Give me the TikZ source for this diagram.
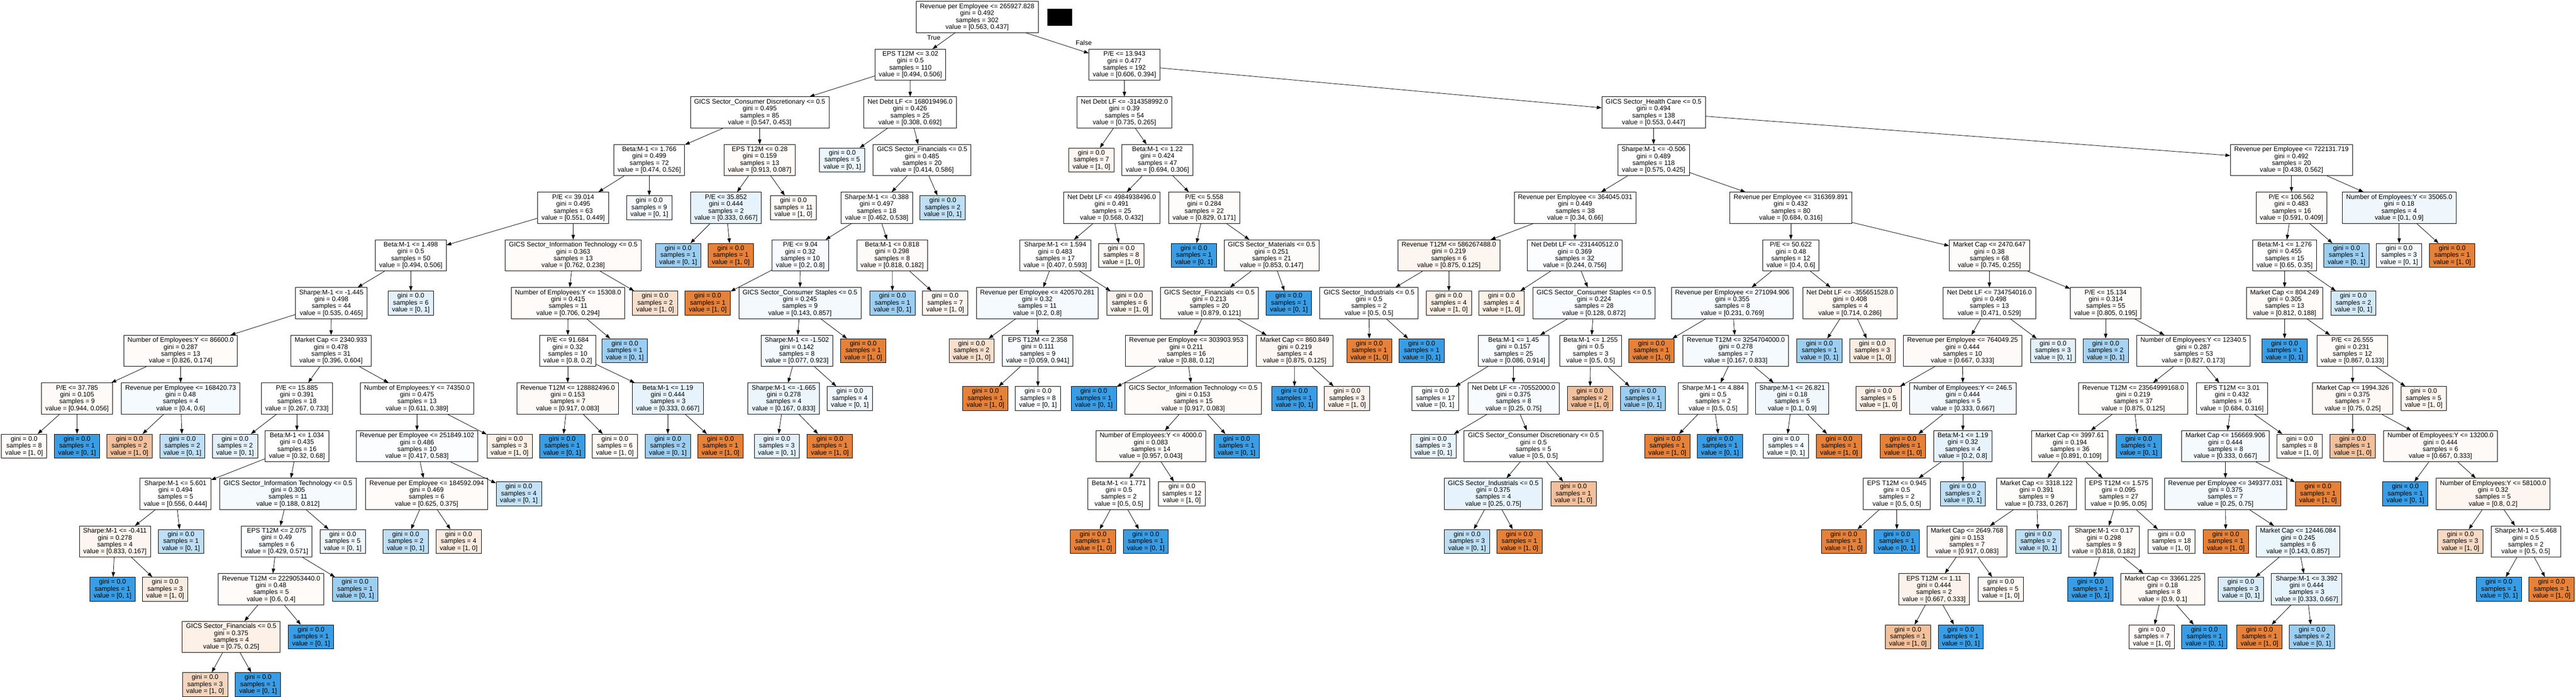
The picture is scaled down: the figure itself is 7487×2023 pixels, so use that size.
\documentclass[tikz,border=0pt]{standalone}
\usepackage{fontspec}
\setmainfont{Liberation Sans}
\usetikzlibrary{arrows.meta}
\definecolor{O}{RGB}{229,129,57}
\definecolor{B}{RGB}{57,157,229}
\newcommand{\tfnt}{\fontsize{19.05pt}{20pt}\selectfont}
\tikzset{
  dn/.style={draw=black, line width=1.3pt, rectangle, align=center, inner xsep=11pt, inner ysep=0pt, minimum height=90.5pt, font=\tfnt},
  lf/.style={dn, minimum height=70pt},
  ed/.style={-{Triangle[length=14pt,width=10pt]}, line width=1.2pt, draw=black},
  lbl/.style={font=\tfnt, inner sep=0pt}
}
% name, x, level, line1, gini, samples, value, fill
\newcommand{\Nd}[8]{\node[dn,fill=#8] (#1) at (#2,{-49.5-138.5*#3}) {#4\\gini = #5\\samples = #6\\value = #7};}
% name, x, level, samples, value, fill
\newcommand{\Lf}[6]{\node[lf,fill=#6] (#1) at (#2,{-49.5-138.5*#3}) {gini = 0.0\\samples = #4\\value = #5};}
\begin{document}
\begin{tikzpicture}[x=1pt,y=1pt]
\fill[white] (0,0) rectangle (7487,-2023);
\useasboundingbox (0,0) rectangle (7487,-2023);
% level 0
\Nd{r}{2840}{0}{Revenue per Employee <= 265927.828}{0.492}{302}{[0.563, 0.437]}{white}
\node[fill=black, minimum width=72pt, minimum height=49pt, inner sep=0pt] (blk) at (3080,-50.5) {};
% level 1
\Nd{a}{2646}{1}{EPS T12M <= 3.02}{0.5}{110}{[0.494, 0.506]}{white}
\Nd{b}{3268}{1}{P/E <= 13.943}{0.477}{192}{[0.606, 0.394]}{white}
% level 2
\Nd{a1}{2208}{2}{GICS Sector\_Consumer Discretionary <= 0.5}{0.495}{85}{[0.547, 0.453]}{white}
\Nd{a2}{2645}{2}{Net Debt LF <= 168019496.0}{0.426}{25}{[0.308, 0.692]}{white}
\Nd{b1}{3268}{2}{Net Debt LF <= -314358992.0}{0.39}{54}{[0.735, 0.265]}{white}
\Nd{b2}{4806}{2}{GICS Sector\_Health Care <= 0.5}{0.494}{138}{[0.553, 0.447]}{white}
% level 3
\Nd{a11}{1887}{3}{Beta:M-1 <= 1.766}{0.499}{72}{[0.474, 0.526]}{white}
\Nd{a12}{2208}{3}{EPS T12M <= 0.28}{0.159}{13}{[0.913, 0.087]}{O!3}
\Lf{a21}{2448}{3}{5}{[0, 1]}{B!10}
\Nd{a22}{2680}{3}{GICS Sector\_Financials <= 0.5}{0.485}{20}{[0.414, 0.586]}{white}
\Lf{b11}{3172}{3}{7}{[1, 0]}{O!8}
\Nd{b12}{3364}{3}{Beta:M-1 <= 1.22}{0.424}{47}{[0.694, 0.306]}{white}
\Nd{b21}{4806}{3}{Sharpe:M-1 <= -0.506}{0.489}{118}{[0.575, 0.425]}{white}
\Nd{b22}{6660}{3}{Revenue per Employee <= 722131.719}{0.492}{20}{[0.438, 0.562]}{white}
% level 4
\Nd{c1}{1666}{4}{P/E <= 39.014}{0.495}{63}{[0.551, 0.449]}{white}
\Lf{c2}{1887}{4}{9}{[0, 1]}{B!5}
\Nd{c3}{2110}{4}{P/E <= 35.852}{0.444}{2}{[0.333, 0.667]}{B!12}
\Lf{c4}{2306}{4}{11}{[1, 0]}{O!4}
\Nd{c5}{2548}{4}{Sharpe:M-1 <= -0.388}{0.497}{18}{[0.462, 0.538]}{white}
\Lf{c6}{2740}{4}{2}{[0, 1]}{B!33}
\Nd{c7}{3231}{4}{Net Debt LF <= 4984938496.0}{0.491}{25}{[0.568, 0.432]}{white}
\Nd{c8}{3500}{4}{P/E <= 5.558}{0.284}{22}{[0.829, 0.171]}{O!2}
\Nd{c9}{4578}{4}{Revenue per Employee <= 364045.031}{0.449}{38}{[0.34, 0.66]}{white}
\Nd{c10}{5205}{4}{Revenue per Employee <= 316369.891}{0.432}{80}{[0.684, 0.316]}{white}
\Nd{c11}{6660}{4}{P/E <= 106.562}{0.483}{16}{[0.591, 0.409]}{O!2}
\Nd{c12}{6973}{4}{Number of Employees:Y <= 35065.0}{0.18}{4}{[0.1, 0.9]}{B!8}
% level 5
\Nd{d1}{1194}{5}{Beta:M-1 <= 1.498}{0.5}{50}{[0.494, 0.506]}{white}
\Nd{d2}{1666}{5}{GICS Sector\_Information Technology <= 0.5}{0.363}{13}{[0.762, 0.238]}{O!3}
\Lf{d3}{1971}{5}{1}{[0, 1]}{B!50}
\Lf{d4}{2124}{5}{1}{[1, 0]}{O}
\Nd{d5}{2326}{5}{P/E <= 9.04}{0.32}{10}{[0.2, 0.8]}{B!4}
\Nd{d6}{2593}{5}{Beta:M-1 <= 0.818}{0.298}{8}{[0.818, 0.182]}{O!4}
\Nd{d7}{3067}{5}{Sharpe:M-1 <= 1.594}{0.483}{17}{[0.407, 0.593]}{white}
\Lf{d8}{3259}{5}{8}{[1, 0]}{O!7}
\Lf{d9}{3470}{5}{1}{[0, 1]}{B}
\Nd{d10}{3696}{5}{GICS Sector\_Materials <= 0.5}{0.251}{21}{[0.853, 0.147]}{O!2}
\Nd{d11}{4211}{5}{Revenue T12M <= 586267488.0}{0.219}{6}{[0.875, 0.125]}{O!8}
\Nd{d12}{4577}{5}{Net Debt LF <= -231440512.0}{0.369}{32}{[0.244, 0.756]}{B!2}
\Nd{d13}{5205}{5}{P/E <= 50.622}{0.48}{12}{[0.4, 0.6]}{white}
\Nd{d14}{5782}{5}{Market Cap <= 2470.647}{0.38}{68}{[0.745, 0.255]}{O!2}
\Nd{d15}{6640}{5}{Beta:M-1 <= 1.276}{0.455}{15}{[0.65, 0.35]}{white}
\Lf{d16}{6820}{5}{1}{[0, 1]}{B!50}
\Lf{d17}{6973}{5}{3}{[0, 1]}{B!6}
\Lf{d18}{7127}{5}{1}{[1, 0]}{O}
% level 6
\Nd{e1}{963}{6}{Sharpe:M-1 <= -1.445}{0.498}{44}{[0.535, 0.465]}{white}
\Lf{e2}{1194}{6}{6}{[0, 1]}{B!15}
\Nd{e3}{1651}{6}{Number of Employees:Y <= 15308.0}{0.415}{11}{[0.706, 0.294]}{O!3}
\Lf{e4}{1904}{6}{2}{[1, 0]}{O!25}
\Lf{e5}{2057}{6}{1}{[1, 0]}{O}
\Nd{e6}{2325}{6}{GICS Sector\_Consumer Staples <= 0.5}{0.245}{9}{[0.143, 0.857]}{B!6}
\Lf{e7}{2594}{6}{1}{[0, 1]}{B!50}
\Lf{e8}{2747}{6}{7}{[1, 0]}{O!8}
\Nd{e9}{3015}{6}{Revenue per Employee <= 420570.281}{0.32}{11}{[0.2, 0.8]}{B!5}
\Lf{e10}{3283}{6}{6}{[1, 0]}{O!10}
\Nd{e11}{3515}{6}{GICS Sector\_Financials <= 0.5}{0.213}{20}{[0.879, 0.121]}{O!2}
\Lf{e12}{3746}{6}{1}{[0, 1]}{B}
\Nd{e13}{3979}{6}{GICS Sector\_Industrials <= 0.5}{0.5}{2}{[0.5, 0.5]}{white}
\Lf{e14}{4211}{6}{4}{[1, 0]}{O!12}
\Lf{e15}{4364}{6}{4}{[1, 0]}{O!12}
\Nd{e16}{4633}{6}{GICS Sector\_Consumer Staples <= 0.5}{0.224}{28}{[0.128, 0.872]}{B!3}
\Nd{e17}{5035}{6}{Revenue per Employee <= 271094.906}{0.355}{8}{[0.231, 0.769]}{B!4}
\Nd{e18}{5377}{6}{Net Debt LF <= -355651528.0}{0.408}{4}{[0.714, 0.286]}{O!5}
\Nd{e19}{5782}{6}{Net Debt LF <= 734754016.0}{0.498}{13}{[0.471, 0.529]}{white}
\Nd{e20}{6120}{6}{P/E <= 15.134}{0.314}{55}{[0.805, 0.195]}{O!2}
\Nd{e21}{6640}{6}{Market Cap <= 804.249}{0.305}{13}{[0.812, 0.188]}{O!3}
\Lf{e22}{6840}{6}{2}{[0, 1]}{B!22}
% level 7
\Nd{f1}{525}{7}{Number of Employees:Y <= 86600.0}{0.287}{13}{[0.826, 0.174]}{O!3}
\Nd{f2}{962}{7}{Market Cap <= 2340.933}{0.478}{31}{[0.396, 0.604]}{white}
\Nd{f3}{1650}{7}{P/E <= 91.684}{0.32}{10}{[0.8, 0.2]}{white}
\Lf{f4}{1816}{7}{1}{[0, 1]}{B!50}
\Nd{f5}{2316}{7}{Sharpe:M-1 <= -1.502}{0.142}{8}{[0.077, 0.923]}{B!6}
\Lf{f6}{2509}{7}{1}{[1, 0]}{O}
\Lf{f7}{2824}{7}{2}{[1, 0]}{O!25}
\Nd{f8}{3016}{7}{EPS T12M <= 2.358}{0.111}{9}{[0.059, 0.941]}{B!3}
\Nd{f9}{3448}{7}{Revenue per Employee <= 303903.953}{0.211}{16}{[0.88, 0.12]}{O!3}
\Nd{f10}{3763}{7}{Market Cap <= 860.849}{0.219}{4}{[0.875, 0.125]}{O!6}
\Lf{f11}{3980}{7}{1}{[1, 0]}{O}
\Lf{f12}{4132}{7}{1}{[0, 1]}{B}
\Nd{f13}{4399}{7}{Beta:M-1 <= 1.45}{0.157}{25}{[0.086, 0.914]}{B!3}
\Nd{f14}{4623}{7}{Beta:M-1 <= 1.255}{0.5}{3}{[0.5, 0.5]}{white}
\Lf{f15}{4800}{7}{1}{[1, 0]}{O}
\Nd{f16}{5045}{7}{Revenue T12M <= 3254704000.0}{0.278}{7}{[0.167, 0.833]}{B!5}
\Lf{f17}{5288}{7}{1}{[0, 1]}{B!50}
\Lf{f18}{5442}{7}{3}{[1, 0]}{O!15}
\Nd{f19}{5704}{7}{Revenue per Employee <= 764049.25}{0.444}{10}{[0.667, 0.333]}{O!4}
\Lf{f20}{5967}{7}{3}{[0, 1]}{B!15}
\Lf{f21}{6120}{7}{2}{[0, 1]}{B!45}
\Nd{f22}{6375}{7}{Number of Employees:Y <= 12340.5}{0.287}{53}{[0.827, 0.173]}{white}
\Lf{f23}{6640}{7}{1}{[0, 1]}{B}
\Nd{f24}{6837}{7}{P/E <= 26.555}{0.231}{12}{[0.867, 0.133]}{O!3}
% level 8
\Nd{g1}{224}{8}{P/E <= 37.785}{0.105}{9}{[0.944, 0.056]}{O!4}
\Nd{g2}{525}{8}{Revenue per Employee <= 168420.73}{0.48}{4}{[0.4, 0.6]}{B!5}
\Nd{g3}{863}{8}{P/E <= 15.885}{0.391}{18}{[0.267, 0.733]}{white}
\Nd{g4}{1212}{8}{Number of Employees:Y <= 74350.0}{0.475}{13}{[0.611, 0.389]}{white}
\Nd{g5}{1650}{8}{Revenue T12M <= 128882496.0}{0.153}{7}{[0.917, 0.083]}{O!4}
\Nd{g6}{1941}{8}{Beta:M-1 <= 1.19}{0.444}{3}{[0.333, 0.667]}{B!12}
\Nd{g7}{2278}{8}{Sharpe:M-1 <= -1.665}{0.278}{4}{[0.167, 0.833]}{B!10}
\Lf{g8}{2470}{8}{4}{[0, 1]}{B!8}
\Lf{g9}{2864}{8}{1}{[1, 0]}{O}
\Lf{g10}{3017}{8}{8}{[0, 1]}{B!2}
\Lf{g11}{3179}{8}{1}{[0, 1]}{B}
\Nd{g12}{3468}{8}{GICS Sector\_Information Technology <= 0.5}{0.153}{15}{[0.917, 0.083]}{O!3}
\Lf{g13}{3762}{8}{1}{[0, 1]}{B}
\Lf{g14}{3915}{8}{3}{[1, 0]}{O!10}
\Lf{g15}{4172}{8}{17}{[0, 1]}{B!2}
\Nd{g16}{4399}{8}{Net Debt LF <= -70552000.0}{0.375}{8}{[0.25, 0.75]}{B!4}
\Lf{g17}{4621}{8}{2}{[1, 0]}{O!50}
\Lf{g18}{4775}{8}{1}{[0, 1]}{B!50}
\Nd{g19}{4979}{8}{Sharpe:M-1 <= 4.884}{0.5}{2}{[0.5, 0.5]}{white}
\Nd{g20}{5209}{8}{Sharpe:M-1 <= 26.821}{0.18}{5}{[0.1, 0.9]}{B!7}
\Lf{g21}{5460}{8}{5}{[1, 0]}{O!12}
\Nd{g22}{5705}{8}{Number of Employees:Y <= 246.5}{0.444}{5}{[0.333, 0.667]}{B!6}
\Nd{g23}{6200}{8}{Revenue T12M <= 23564999168.0}{0.219}{37}{[0.875, 0.125]}{O!1}
\Nd{g24}{6487}{8}{EPS T12M <= 3.01}{0.432}{16}{[0.684, 0.316]}{white}
\Nd{g25}{6838}{8}{Market Cap <= 1994.326}{0.375}{7}{[0.75, 0.25]}{O!5}
\Lf{g26}{7044}{8}{5}{[1, 0]}{O!8}
% level 9
\Lf{h1}{70}{9}{8}{[1, 0]}{O!4}
\Lf{h2}{224}{9}{1}{[0, 1]}{B}
\Lf{h3}{376}{9}{2}{[1, 0]}{O!50}
\Lf{h4}{530}{9}{2}{[0, 1]}{B!33}
\Lf{h5}{683}{9}{2}{[0, 1]}{B!15}
\Nd{h6}{863}{9}{Beta:M-1 <= 1.034}{0.435}{16}{[0.32, 0.68]}{white}
\Nd{h7}{1212}{9}{Revenue per Employee <= 251849.102}{0.486}{10}{[0.417, 0.583]}{B!2}
\Lf{h8}{1481}{9}{3}{[1, 0]}{O!12}
\Lf{h9}{1634}{9}{1}{[0, 1]}{B}
\Lf{h10}{1787}{9}{6}{[1, 0]}{O!5}
\Lf{h11}{1941}{9}{2}{[0, 1]}{B!50}
\Lf{h12}{2094}{9}{1}{[1, 0]}{O}
\Lf{h13}{2258}{9}{3}{[0, 1]}{B!15}
\Lf{h14}{2412}{9}{1}{[1, 0]}{O}
\Nd{h15}{3345}{9}{Number of Employees:Y <= 4000.0}{0.083}{14}{[0.957, 0.043]}{O!2}
\Lf{h16}{3594}{9}{1}{[0, 1]}{B}
\Lf{h17}{4166}{9}{3}{[0, 1]}{B!12}
\Nd{h18}{4457}{9}{GICS Sector\_Consumer Discretionary <= 0.5}{0.5}{5}{[0.5, 0.5]}{white}
\Lf{h19}{4846}{9}{1}{[1, 0]}{O}
\Lf{h20}{4999}{9}{1}{[0, 1]}{B}
\Lf{h21}{5191}{9}{4}{[0, 1]}{B!5}
\Lf{h22}{5345}{9}{1}{[1, 0]}{O}
\Lf{h23}{5531}{9}{1}{[1, 0]}{O}
\Nd{h24}{5705}{9}{Beta:M-1 <= 1.19}{0.32}{4}{[0.2, 0.8]}{B!12}
\Nd{h25}{6016}{9}{Market Cap <= 3997.61}{0.194}{36}{[0.891, 0.109]}{O!1}
\Lf{h26}{6216}{9}{1}{[0, 1]}{B}
\Nd{h27}{6468}{9}{Market Cap <= 156669.906}{0.444}{8}{[0.333, 0.667]}{B!5}
\Lf{h28}{6684}{9}{8}{[1, 0]}{O!5}
\Lf{h29}{6838}{9}{1}{[1, 0]}{O!50}
\Nd{h30}{7093}{9}{Number of Employees:Y <= 13200.0}{0.444}{6}{[0.667, 0.333]}{O!4}
% level 10
\Nd{i1}{510}{10}{Sharpe:M-1 <= 5.601}{0.494}{5}{[0.556, 0.444]}{white}
\Nd{i2}{837}{10}{GICS Sector\_Information Technology <= 0.5}{0.305}{11}{[0.188, 0.812]}{B!5}
\Nd{i3}{1240}{10}{Revenue per Employee <= 184592.094}{0.469}{6}{[0.625, 0.375]}{O!3}
\Lf{i4}{1508}{10}{4}{[0, 1]}{B!30}
\Nd{i5}{3252}{10}{Beta:M-1 <= 1.771}{0.5}{2}{[0.5, 0.5]}{white}
\Lf{i6}{3435}{10}{12}{[1, 0]}{O!3}
\Nd{i7}{4340}{10}{GICS Sector\_Industrials <= 0.5}{0.375}{4}{[0.25, 0.75]}{B!12}
\Lf{i8}{4573}{10}{1}{[1, 0]}{O!50}
\Nd{i9}{5513}{10}{EPS T12M <= 0.945}{0.5}{2}{[0.5, 0.5]}{white}
\Lf{i10}{5705}{10}{2}{[0, 1]}{B!33}
\Nd{i11}{5919}{10}{Market Cap <= 3318.122}{0.391}{9}{[0.733, 0.267]}{O!2}
\Nd{i12}{6158}{10}{EPS T12M <= 1.575}{0.095}{27}{[0.95, 0.05]}{O!1}
\Nd{i13}{6468}{10}{Revenue per Employee <= 349377.031}{0.375}{7}{[0.25, 0.75]}{B!6}
\Lf{i14}{6737}{10}{1}{[1, 0]}{O}
\Lf{i15}{6991}{10}{1}{[0, 1]}{B}
\Nd{i16}{7246}{10}{Number of Employees:Y <= 58100.0}{0.32}{5}{[0.8, 0.2]}{O!8}
% level 11
\Nd{j1}{334}{11}{Sharpe:M-1 <= -0.411}{0.278}{4}{[0.833, 0.167]}{O!8}
\Lf{j2}{526}{11}{1}{[0, 1]}{B!33}
\Nd{j3}{804}{11}{EPS T12M <= 2.075}{0.49}{6}{[0.429, 0.571]}{B!2}
\Lf{j4}{996}{11}{5}{[0, 1]}{B!8}
\Lf{j5}{1179}{11}{2}{[0, 1]}{B!33}
\Lf{j6}{1333}{11}{4}{[1, 0]}{O!15}
\Lf{j7}{3177}{11}{1}{[1, 0]}{O}
\Lf{j8}{3330}{11}{1}{[0, 1]}{B}
\Lf{j9}{4264}{11}{3}{[0, 1]}{B!33}
\Lf{j10}{4416}{11}{1}{[1, 0]}{O}
\Lf{j11}{5359}{11}{1}{[1, 0]}{O}
\Lf{j12}{5513}{11}{1}{[0, 1]}{B}
\Nd{j13}{5717}{11}{Market Cap <= 2649.768}{0.153}{7}{[0.917, 0.083]}{O!4}
\Lf{j14}{5924}{11}{2}{[0, 1]}{B!33}
\Nd{j15}{6115}{11}{Sharpe:M-1 <= 0.17}{0.298}{9}{[0.818, 0.182]}{O!3}
\Lf{j16}{6311}{11}{18}{[1, 0]}{O!2}
\Lf{j17}{6469}{11}{1}{[1, 0]}{O}
\Nd{j18}{6679}{11}{Market Cap <= 12446.084}{0.245}{6}{[0.143, 0.857]}{B!10}
\Lf{j19}{7151}{11}{3}{[1, 0]}{O!30}
\Nd{j20}{7341}{11}{Sharpe:M-1 <= 5.468}{0.5}{2}{[0.5, 0.5]}{white}
% level 12
\Lf{k1}{327}{12}{1}{[0, 1]}{B}
\Lf{k2}{480}{12}{3}{[1, 0]}{O!15}
\Nd{k3}{788}{12}{Revenue T12M <= 2229053440.0}{0.48}{5}{[0.6, 0.4]}{O!3}
\Lf{k4}{1032}{12}{1}{[0, 1]}{B!50}
\Nd{k5}{5621}{12}{EPS T12M <= 1.11}{0.444}{2}{[0.667, 0.333]}{O!10}
\Lf{k6}{5815}{12}{5}{[1, 0]}{O!6}
\Lf{k7}{6076}{12}{1}{[0, 1]}{B}
\Nd{k8}{6286}{12}{Market Cap <= 33661.225}{0.18}{8}{[0.9, 0.1]}{O!5}
\Lf{k9}{6513}{12}{3}{[0, 1]}{B!20}
\Nd{k10}{6704}{12}{Sharpe:M-1 <= 3.392}{0.444}{3}{[0.333, 0.667]}{B!12}
\Lf{k11}{7263}{12}{1}{[0, 1]}{B}
\Lf{k12}{7416}{12}{1}{[1, 0]}{O}
% level 13
\Nd{l1}{672}{13}{GICS Sector\_Financials <= 0.5}{0.375}{4}{[0.75, 0.25]}{O!12}
\Lf{l2}{904}{13}{1}{[0, 1]}{B}
\Lf{l3}{5545}{13}{1}{[1, 0]}{O!50}
\Lf{l4}{5699}{13}{1}{[0, 1]}{B}
\Lf{l5}{6254}{13}{7}{[1, 0]}{O!4}
\Lf{l6}{6407}{13}{1}{[0, 1]}{B}
\Lf{l7}{6567}{13}{1}{[1, 0]}{O}
\Lf{l8}{6720}{13}{2}{[0, 1]}{B!50}
% level 14
\Lf{m1}{596}{14}{3}{[1, 0]}{O!33}
\Lf{m2}{750}{14}{1}{[0, 1]}{B}
% edges
\foreach \p/\c in {r/a, r/b, a/a1, a/a2, a1/a11, a1/a12, a11/c1, a11/c2, c1/d1, c1/d2,
  d1/e1, d1/e2, e1/f1, e1/f2, f1/g1, f1/g2, g1/h1, g1/h2, g2/h3, g2/h4,
  f2/g3, f2/g4, g3/h5, g3/h6, h6/i1, h6/i2, i1/j1, i1/j2, j1/k1, j1/k2,
  i2/j3, i2/j4, j3/k3, j3/k4, k3/l1, k3/l2, l1/m1, l1/m2, g4/h7, g4/h8,
  h7/i3, h7/i4, i3/j5, i3/j6, d2/e3, d2/e4, e3/f3, e3/f4, f3/g5, f3/g6,
  g5/h9, g5/h10, g6/h11, g6/h12, a12/c3, a12/c4, c3/d3, c3/d4,
  a2/a21, a2/a22, a22/c5, a22/c6, c5/d5, c5/d6, d5/e5, d5/e6, e6/f5, e6/f6,
  f5/g7, f5/g8, g7/h13, g7/h14, d6/e7, d6/e8,
  b/b1, b/b2, b1/b11, b1/b12, b12/c7, b12/c8, c7/d7, c7/d8, d7/e9, d7/e10,
  e9/f7, e9/f8, f8/g9, f8/g10, c8/d9, c8/d10, d10/e11, d10/e12, e11/f9, e11/f10,
  f9/g11, f9/g12, g12/h15, g12/h16, h15/i5, h15/i6, i5/j7, i5/j8, f10/g13, f10/g14,
  b2/b21, b2/b22, b21/c9, b21/c10, c9/d11, c9/d12, d11/e13, d11/e14, e13/f11, e13/f12,
  d12/e15, d12/e16, e16/f13, e16/f14, f13/g15, f13/g16, g16/h17, g16/h18, h18/i7, h18/i8,
  i7/j9, i7/j10, f14/g17, f14/g18, c10/d13, c10/d14, d13/e17, d13/e18, e17/f15, e17/f16,
  f16/g19, f16/g20, g19/h19, g19/h20, g20/h21, g20/h22, e18/f17, e18/f18,
  d14/e19, d14/e20, e19/f19, e19/f20, f19/g21, f19/g22, g22/h23, g22/h24, h24/i9, h24/i10,
  i9/j11, i9/j12, e20/f21, e20/f22, f22/g23, f22/g24, g23/h25, g23/h26, h25/i11, h25/i12,
  i11/j13, i11/j14, j13/k5, j13/k6, k5/l3, k5/l4, i12/j15, i12/j16, j15/k7, j15/k8,
  k8/l5, k8/l6, g24/h27, g24/h28, h27/i13, h27/i14, i13/j17, i13/j18, j18/k9, j18/k10,
  k10/l7, k10/l8, b22/c11, b22/c12, c11/d15, c11/d16, c12/d17, c12/d18, d15/e21, d15/e22,
  e21/f23, e21/f24, f24/g25, f24/g26, g25/h29, g25/h30, h30/i15, h30/i16, i16/j19, i16/j20,
  j20/k11, j20/k12}
  \draw[ed] (\p) -- (\c);
% edge labels
\node[lbl] (tT) at (2714,-109) {True};
\node[lbl] (tF) at (3150,-124) {False};
\end{tikzpicture}
\end{document}
